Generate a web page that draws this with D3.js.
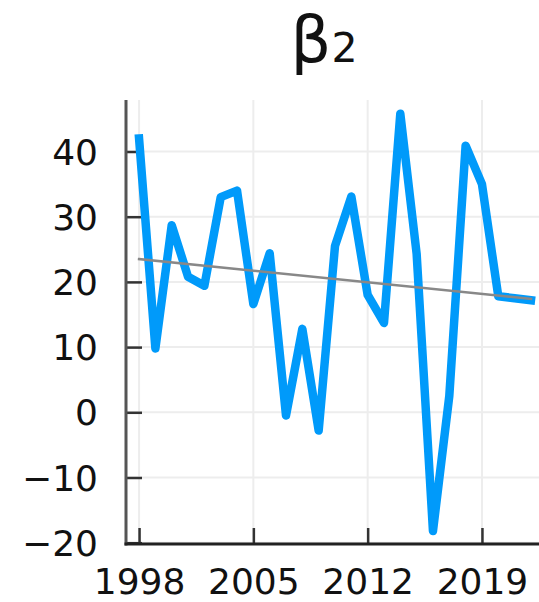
<!DOCTYPE html>
<html>
<head>
<meta charset="utf-8">
<script src="https://cdn.jsdelivr.net/npm/d3@7"></script>
<style>
  html, body { margin: 0; padding: 0; background: #fff; }
  svg { display: block; font-family: "DejaVu Sans", sans-serif; }
</style>
</head>
<body>
<svg id="chart" width="539" height="602"></svg>
<script>
// Yearly coefficient series
const years = [1998, 1999, 2000, 2001, 2002, 2003, 2004, 2005, 2006, 2007, 2008, 2009,
               2010, 2011, 2012, 2013, 2014, 2015, 2016, 2017, 2018, 2019, 2020, 2021, 2022];
const beta2 = [42.0, 9.8, 28.7, 20.8, 19.4, 33.0, 34.0, 16.6, 24.4, -0.5, 12.8, -2.8,
               25.5, 33.1, 18.0, 13.7, 45.8, 24.3, -18.2, 2.5, 40.9, 35.0, 17.8, 17.5, 17.2];

// Linear trend, endpoints
const trendYears = [1998, 2022];
const trendValues = [23.5, 17.4];

// Tick values
const xTicks = [1998, 2005, 2012, 2019];
const yTicks = [-20, -10, 0, 10, 20, 30, 40];

const W = 539, H = 602;
const frame = { left: 126, right: 544, top: 100, bottom: 544 };

const svg = d3.select("#chart");

const x = d3.scaleLinear().domain([1997.2, 2022.8]).range([frame.left, frame.right]);
const y = d3.scaleLinear().domain([-20.2, 47.9]).range([frame.bottom, frame.top]);

// Grid
const grid = svg.append("g");
grid.selectAll("line.gx").data(xTicks).join("line")
  .attr("x1", d => x(d)).attr("x2", d => x(d))
  .attr("y1", frame.top).attr("y2", frame.bottom)
  .attr("stroke", "#ededed").attr("stroke-width", 2);
grid.selectAll("line.gy").data(yTicks).join("line")
  .attr("x1", frame.left).attr("x2", W)
  .attr("y1", d => y(d)).attr("y2", d => y(d))
  .attr("stroke", "#ededed").attr("stroke-width", 2);

// Axes with inward ticks
const tickLen = 16;
const xAxis = d3.axisBottom(x).tickValues(xTicks).tickFormat(d3.format("d"))
  .tickSizeInner(-tickLen).tickSizeOuter(0).tickPadding(24);
const yAxis = d3.axisLeft(y).tickValues(yTicks).tickFormat(d => d < 0 ? "\u2212" + Math.abs(d) : d)
  .tickSizeInner(-tickLen).tickSizeOuter(0).tickPadding(28);

const gx = svg.append("g").attr("transform", `translate(0,${frame.bottom})`).call(xAxis);
const gy = svg.append("g").attr("transform", `translate(${frame.left},0)`).call(yAxis);

[gx, gy].forEach(g => {
  g.select(".domain").remove();
  g.selectAll(".tick line").attr("stroke", "#333").attr("stroke-width", 2.5);
  g.selectAll(".tick text")
    .attr("font-family", "DejaVu Sans, sans-serif")
    .attr("font-size", 36).attr("fill", "#111");
});
gy.selectAll(".tick text").attr("dy", "0.35em");
gx.selectAll(".tick text").attr("dy", "0.71em");

// Axis lines
svg.append("line")
  .attr("x1", frame.left).attr("x2", frame.left).attr("y1", frame.top).attr("y2", frame.bottom + 1.5)
  .attr("stroke", "#555").attr("stroke-width", 3);
svg.append("line")
  .attr("x1", frame.left - 1.5).attr("x2", W).attr("y1", frame.bottom).attr("y2", frame.bottom)
  .attr("stroke", "#222").attr("stroke-width", 3);

// Series line
const line = d3.line().x(d => x(d[0])).y(d => y(d[1]));
svg.append("path")
  .datum(d3.zip(years, beta2))
  .attr("d", line)
  .attr("fill", "none")
  .attr("stroke", "#009AFA")
  .attr("stroke-width", 8.5)
  .attr("stroke-linejoin", "round")
  .attr("stroke-linecap", "square");

// Trend line
svg.append("path")
  .datum(d3.zip(trendYears, trendValues))
  .attr("d", line)
  .attr("fill", "none")
  .attr("stroke", "#888")
  .attr("stroke-width", 2.5)
  .attr("stroke-linecap", "square");

// Title
const title = svg.append("text")
  .attr("x", 324).attr("y", 62)
  .attr("text-anchor", "middle")
  .attr("font-family", "DejaVu Sans, sans-serif")
  .attr("fill", "#111");
title.append("tspan").attr("font-size", 64).text("β");
title.append("tspan").attr("font-size", 41).text("2");
</script>
</body>
</html>
